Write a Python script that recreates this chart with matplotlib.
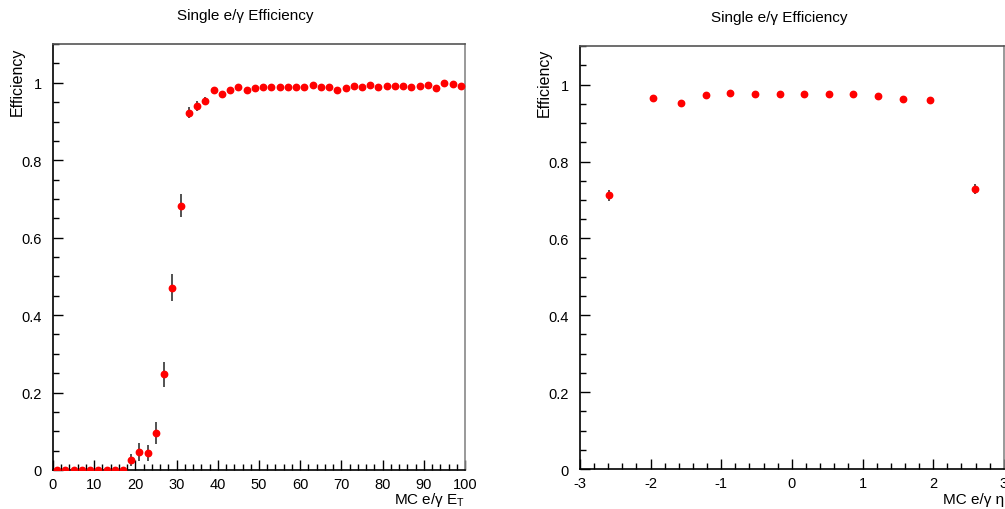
import matplotlib
matplotlib.use("Agg")
import matplotlib.pyplot as plt
import numpy as np
from matplotlib.ticker import MultipleLocator

plt.rcParams['font.family'] = ['Liberation Sans', 'DejaVu Sans']

# Efficiency vs MC E_T (2 GeV bins)
et_centers = np.arange(1, 100, 2)
et_eff = [0, 0, 0, 0, 0, 0, 0, 0, 0,
          0.026, 0.046, 0.043, 0.095, 0.247, 0.471, 0.683,
          0.923, 0.940, 0.954, 0.981, 0.972, 0.981, 0.990, 0.982, 0.987, 0.989,
          0.990, 0.990, 0.990, 0.990, 0.989, 0.995, 0.990, 0.989, 0.982, 0.987,
          0.991, 0.990, 0.994, 0.990, 0.991, 0.992, 0.992, 0.989, 0.992, 0.995,
          0.987, 1.000, 0.996, 0.992]
et_err = [0, 0, 0, 0, 0, 0, 0, 0, 0,
          0.016, 0.023, 0.021, 0.029, 0.032, 0.034, 0.029,
          0.014, 0.012, 0.010, 0.007, 0.007, 0.006, 0.005, 0.006, 0.005, 0.005,
          0.005, 0.005, 0.005, 0.005, 0.005, 0.004, 0.005, 0.005, 0.006, 0.005,
          0.005, 0.005, 0.004, 0.005, 0.005, 0.004, 0.004, 0.005, 0.004, 0.004,
          0.005, 0.002, 0.003, 0.004]

# Efficiency vs MC eta
eta_centers = [-2.59, -1.96, -1.57, -1.22, -0.87, -0.52, -0.17,
               0.17, 0.52, 0.87, 1.22, 1.57, 1.96, 2.59]
eta_eff = [0.712, 0.964, 0.953, 0.974, 0.978, 0.975, 0.976,
           0.975, 0.975, 0.977, 0.970, 0.962, 0.961, 0.728]
eta_err = [0.015, 0.004, 0.004, 0.003, 0.003, 0.003, 0.003,
           0.003, 0.003, 0.003, 0.003, 0.004, 0.004, 0.013]

fig = plt.figure(figsize=(10.05, 5.1), dpi=100)
ax1 = fig.add_axes([0.0527, 0.0765, 0.41, 0.835])
ax2 = fig.add_axes([0.577, 0.0784, 0.4219, 0.829])


def style(ax, xmaj, xmin):
    ax.set_ylim(0, 1.1)
    ax.xaxis.set_major_locator(MultipleLocator(xmaj))
    ax.xaxis.set_minor_locator(MultipleLocator(xmin))
    ax.yaxis.set_major_locator(MultipleLocator(0.2))
    ax.yaxis.set_minor_locator(MultipleLocator(0.05))
    ax.yaxis.set_major_formatter(plt.FuncFormatter(lambda v, p: f"{v:g}"))
    ax.xaxis.set_major_formatter(plt.FuncFormatter(lambda v, p: f"{v:g}"))
    ax.tick_params(which='both', direction='in', top=False, right=False, labelsize=10.5, color='black')
    ax.tick_params(which='major', length=7, width=1)
    ax.tick_params(which='minor', length=4, width=1)
    ax.tick_params(axis='y', pad=8)
    ax.tick_params(axis='x', pad=5)
    ax.spines['left'].set_color('black')
    ax.spines['bottom'].set_color('black')
    ax.spines['top'].set_color('#555555')
    ax.spines['right'].set_color('#888888')
    for s in ax.spines.values():
        s.set_linewidth(1.2)


ax1.errorbar(et_centers, et_eff, yerr=et_err, fmt='o', color='red', ms=4.6,
             ecolor='#333333', elinewidth=1.2, capsize=0, zorder=3)
ax1.set_xlim(0, 100)
style(ax1, 10, 2)

ax2.errorbar(eta_centers, eta_eff, yerr=eta_err, fmt='o', color='red', ms=4.6,
             ecolor='#333333', elinewidth=1.2, capsize=0, zorder=3)
ax2.set_xlim(-3, 3)
style(ax2, 1, 0.2)

fig.text(0.2443, 0.968, 'Single e/\u03b3 Efficiency', ha='center', va='center', fontsize=11)
fig.text(0.775, 0.964, 'Single e/\u03b3 Efficiency', ha='center', va='center', fontsize=11)

fig.text(0.017, 0.84, 'Efficiency', rotation=90, ha='center', va='center', fontsize=11.5)
fig.text(0.542, 0.838, 'Efficiency', rotation=90, ha='center', va='center', fontsize=11.5)

fig.text(0.463, 0.011, 'MC e/\u03b3 E$_\\mathregular{T}$', ha='right', va='baseline', fontsize=11)
fig.text(0.999, 0.011, 'MC e/\u03b3 \u03b7', ha='right', va='baseline', fontsize=11)

fig.savefig('out.png', dpi=100)
